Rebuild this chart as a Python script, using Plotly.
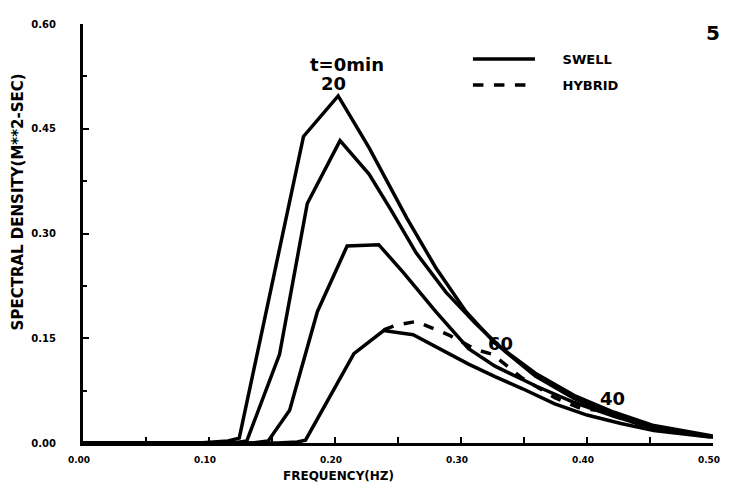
import plotly.graph_objects as go

# ---- data ----
freq_a = [0.00, 0.092, 0.115, 0.124, 0.175, 0.2025, 0.227, 0.257, 0.280, 0.304, 0.327, 0.359, 0.390, 0.4215, 0.453, 0.500]
dens_a = [0.00, 0.000, 0.003, 0.007, 0.439, 0.497, 0.423, 0.322, 0.251, 0.188, 0.143, 0.100, 0.068, 0.044, 0.025, 0.010]

freq_b = [0.00, 0.119, 0.130, 0.156, 0.178, 0.204, 0.227, 0.245, 0.2645, 0.288, 0.3116, 0.335, 0.359, 0.390, 0.4215, 0.453, 0.500]
dens_b = [0.00, 0.000, 0.003, 0.127, 0.343, 0.433, 0.385, 0.332, 0.272, 0.216, 0.171, 0.131, 0.096, 0.0635, 0.041, 0.023, 0.0085]

freq_c = [0.00, 0.135, 0.147, 0.164, 0.186, 0.2096, 0.2347, 0.2543, 0.280, 0.306, 0.327, 0.359, 0.390, 0.4215, 0.453, 0.500]
dens_c = [0.00, 0.000, 0.003, 0.047, 0.188, 0.282, 0.284, 0.244, 0.188, 0.135, 0.110, 0.082, 0.058, 0.038, 0.021, 0.0085]

freq_d = [0.00, 0.1546, 0.170, 0.1766, 0.215, 0.2386, 0.262, 0.306, 0.327, 0.3485, 0.3744, 0.400, 0.427, 0.453, 0.4976]
dens_d = [0.00, 0.000, 0.0015, 0.004, 0.128, 0.161, 0.155, 0.113, 0.095, 0.078, 0.056, 0.040, 0.028, 0.018, 0.0085]

freq_h = [0.2386, 0.249, 0.2645, 0.290, 0.3116, 0.325, 0.3485, 0.3744, 0.3956, 0.408, 0.424, 0.445, 0.4976]
dens_h = [0.162, 0.169, 0.174, 0.155, 0.134, 0.127, 0.093, 0.065, 0.049, 0.047, 0.037, 0.025, 0.0085]

x_ticks = [0.0, 0.1, 0.2, 0.3, 0.4, 0.5]
x_labels = ["0.00", "0.10", "0.20", "0.30", "0.40", "0.50"]
y_ticks = [0.0, 0.15, 0.30, 0.45, 0.60]
y_labels = ["0.00", "0.15", "0.30", "0.45", "0.60"]

FONT = "DejaVu Sans"
LW = 3.5
NB = "\u00a0"

fig = go.Figure()
swell_sets = [(freq_a, dens_a), (freq_b, dens_b), (freq_c, dens_c), (freq_d, dens_d)]
for i, (fx, fy) in enumerate(swell_sets):
    fig.add_trace(go.Scatter(x=fx, y=fy, mode="lines", name=NB * 5 + "SWELL",
                             legendgroup="swell",
                             line=dict(color="black", width=LW),
                             showlegend=(i == 0)))
fig.add_trace(go.Scatter(x=freq_h, y=dens_h, mode="lines", name=NB * 5 + "HYBRID",
                         legendgroup="hybrid",
                         line=dict(color="black", width=LW, dash="dash")))

# page has an 8px body margin on every side, so the figure is 16px smaller than the window
fig.update_layout(
    width=722, height=477,
    margin=dict(l=75, r=10, t=10, b=42),
    paper_bgcolor="white", plot_bgcolor="white",
    font=dict(family=FONT, color="black"),
    showlegend=True,
    legend=dict(x=0.611, y=0.952, xanchor="left", yanchor="top",
                bgcolor="rgba(0,0,0,0)", itemwidth=62,
                traceorder="grouped", tracegroupgap=6,
                font=dict(size=13, family=FONT, weight="bold")),
)
fig.update_xaxes(range=[0, 0.5], showgrid=False, zeroline=False,
                 showline=True, linecolor="black", linewidth=3,
                 tickvals=x_ticks, ticktext=x_labels,
                 ticks="inside", ticklen=6, tickwidth=2, tickcolor="black",
                 minor=dict(dtick=0.05, ticks="inside", ticklen=6, tickwidth=2, tickcolor="black"),
                 tickfont=dict(size=9, family=FONT, weight="bold"),
                 ticklabelshift=-4,
                 ticklabelstandoff=6)
fig.update_yaxes(range=[0, 0.6], showgrid=False, zeroline=False,
                 showline=True, linecolor="black", linewidth=3,
                 tickvals=y_ticks, ticktext=y_labels,
                 ticks="inside", ticklen=6, tickwidth=2, tickcolor="black",
                 minor=dict(dtick=0.075, ticks="inside", ticklen=4, tickwidth=1.5, tickcolor="black"),
                 tickfont=dict(size=10, family=FONT, weight="bold"),
                 ticklabelstandoff=22)

bold = dict(family=FONT, weight="bold", color="black")
fig.add_annotation(text="SPECTRAL DENSITY(M**2-SEC)", textangle=-90,
                   xref="paper", yref="paper", x=-0.1036, y=0.576,
                   xanchor="center", yanchor="middle",
                   showarrow=False, font=dict(size=15, **bold))
fig.add_annotation(text="FREQUENCY(HZ)", xref="paper", yref="paper",
                   x=0.405, y=-0.078, yanchor="middle",
                   showarrow=False, font=dict(size=12, **bold))
fig.add_annotation(text="t=0min", x=0.2096, y=0.542, xref="x", yref="y",
                   showarrow=False, font=dict(size=18, **bold))
fig.add_annotation(text="20", x=0.1986, y=0.515, xref="x", yref="y",
                   showarrow=False, font=dict(size=18, **bold))
fig.add_annotation(text="60", x=0.331, y=0.143, xref="x", yref="y",
                   showarrow=False, font=dict(size=18, **bold))
fig.add_annotation(text="40", x=0.420, y=0.064, xref="x", yref="y",
                   showarrow=False, font=dict(size=18, **bold))
fig.add_annotation(text="5", xref="paper", yref="paper", x=1.012, y=1.01,
                   xanchor="right", yanchor="top", borderpad=0,
                   showarrow=False, font=dict(size=20, **bold))

fig.write_html("out.html")
